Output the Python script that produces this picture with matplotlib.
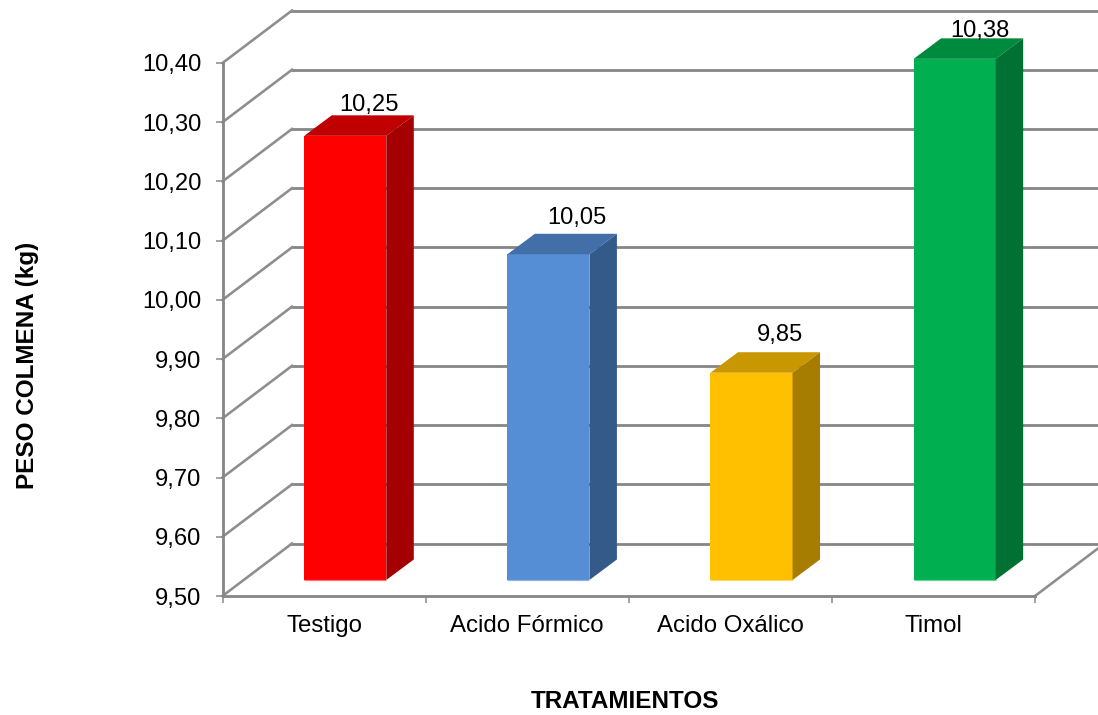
import matplotlib
matplotlib.use("Agg")
import matplotlib.pyplot as plt
from matplotlib.patches import Polygon
from matplotlib.transforms import Affine2D
import numpy as np

# Chart content
categories = ["Testigo", "Acido Fórmico", "Acido Oxálico", "Timol"]
peso = [10.25, 10.05, 9.85, 10.38]
value_labels = ["10,25", "10,05", "9,85", "10,38"]
y_ticks = [9.5, 9.6, 9.7, 9.8, 9.9, 10.0, 10.1, 10.2, 10.3, 10.4]
y_tick_labels = ["9,50", "9,60", "9,70", "9,80", "9,90", "10,00", "10,10", "10,20", "10,30", "10,40"]
y_title = "PESO COLMENA (kg)"
x_title = "TRATAMIENTOS"

# Colours per bar: front, top and side faces
front_colors = ["#FF0000", "#558ED5", "#FFC000", "#00B050"]
top_colors = ["#C00000", "#426FA8", "#C99700", "#008A3E"]
side_colors = ["#A50000", "#345A8A", "#A67D00", "#007033"]
base_colors = ["#FF7070", "#8FB4E3", "#FFD966", "#66D096"]
GRID = "#868686"

W, H = 1098, 715
plt.rcParams["font.family"] = ["Liberation Sans", "DejaVu Sans"]

# 72 dpi: one point equals one pixel
fig = plt.figure(figsize=(W / 72, H / 72), dpi=72, facecolor="white")

# Front plane of the pseudo-3D box, in pixels from the top-left corner
left, right, top, bottom = 222.5, 1035.0, 63.0, 596.0
ax = fig.add_axes([left / W, 1 - bottom / H, (right - left) / W, (bottom - top) / H])
ax.set_xlim(0, 4)
ax.set_ylim(9.5, 10.4)
ax.patch.set_visible(False)
for name, spine in ax.spines.items():
    spine.set_visible(name in ("left", "bottom"))
    spine.set_color(GRID)
    spine.set_linewidth(2.8)
    spine.set_zorder(2)

ax.set_yticks(y_ticks, y_tick_labels)
ax.set_xticks(range(5), [""] * 5)
ax.set_xticks(np.arange(4) + 0.5, categories, minor=True)
ax.tick_params(axis="y", length=7, width=1.5, color=GRID, labelsize=23.7, pad=14, labelcolor="black")
ax.tick_params(axis="x", which="major", length=7, width=1.5, color=GRID)
ax.tick_params(axis="x", which="minor", length=0, labelsize=24, pad=19, labelcolor="black")

# Depth of the box and of each bar, in pixels (x right, y up)
BOX_DX, BOX_DY = 69.5, 52.5
BASE_DX, BASE_DY = 21.2, 16.0
BAR_DX, BAR_DY = 27.5, 20.5
BAR_WIDTH = 0.404

back = ax.transData + Affine2D().translate(BOX_DX, BOX_DY)
front_face = ax.transData + Affine2D().translate(BASE_DX, BASE_DY)

# Wall gridlines and the diagonals running along the left side wall
for v in y_ticks:
    ax.plot([0, 4.04], [v, v], transform=back, color=GRID, lw=2.8, clip_on=False, zorder=1)
    x0, y0 = ax.transData.transform((0, v))
    ax.plot([x0, x0 + BOX_DX], [y0, y0 + BOX_DY], transform=None, color="#8E8E8E",
            lw=2.6, clip_on=False, zorder=1)
ax.plot([4, 4 + BOX_DX / (right - left) * 4], [9.5, 9.5 + BOX_DY / (bottom - top) * 0.9],
        color="#8E8E8E", lw=2.6, clip_on=False, zorder=1)

# Data-label offsets from the top-right corner of the front face, in pixels
label_dx = [-17, -13, -13, -16]
label_dy = [20, 25, 27, 17]

for i, v in enumerate(peso):
    x0, x1 = i + 0.5 - BAR_WIDTH / 2, i + 0.5 + BAR_WIDTH / 2
    ax.bar(i + 0.5, v - 9.5, BAR_WIDTH, bottom=9.5, color=front_colors[i], transform=front_face,
           clip_on=False, zorder=4, linewidth=0)
    ax.plot([x0, x1], [9.5, 9.5], transform=front_face, color=base_colors[i], lw=1.2,
            clip_on=False, zorder=5, solid_capstyle="butt")

    # Top and side faces follow the front-face corners
    (xl, yb), (xr, yt) = front_face.transform([(x0, 9.5), (x1, v)])
    top_face = [(xl, yt), (xr, yt), (xr + BAR_DX, yt + BAR_DY), (xl + BAR_DX, yt + BAR_DY)]
    side_face = [(xr, yb), (xr + BAR_DX, yb + BAR_DY), (xr + BAR_DX, yt + BAR_DY), (xr, yt)]
    ax.add_patch(Polygon(top_face, closed=True, transform=None, facecolor=top_colors[i],
                         edgecolor="none", clip_on=False, zorder=4))
    ax.add_patch(Polygon(side_face, closed=True, transform=None, facecolor=side_colors[i],
                         edgecolor="none", clip_on=False, zorder=4))

    ax.annotate(value_labels[i], xy=(xr, yt), xycoords="figure pixels",
                xytext=(label_dx[i], label_dy[i]), textcoords="offset pixels",
                ha="center", va="bottom", fontsize=23.7, color="black", zorder=6,
                annotation_clip=False)

# Axis titles
fig.text(27.5 / W, 1 - 365 / H, y_title, rotation=90, ha="center", va="center",
         fontsize=24.2, fontweight="bold", color="black")
fig.text(625 / W, 1 - 701.5 / H, x_title, ha="center", va="center",
         fontsize=24.2, fontweight="bold", color="black")

fig.savefig("out.png", dpi=72, facecolor="white")
